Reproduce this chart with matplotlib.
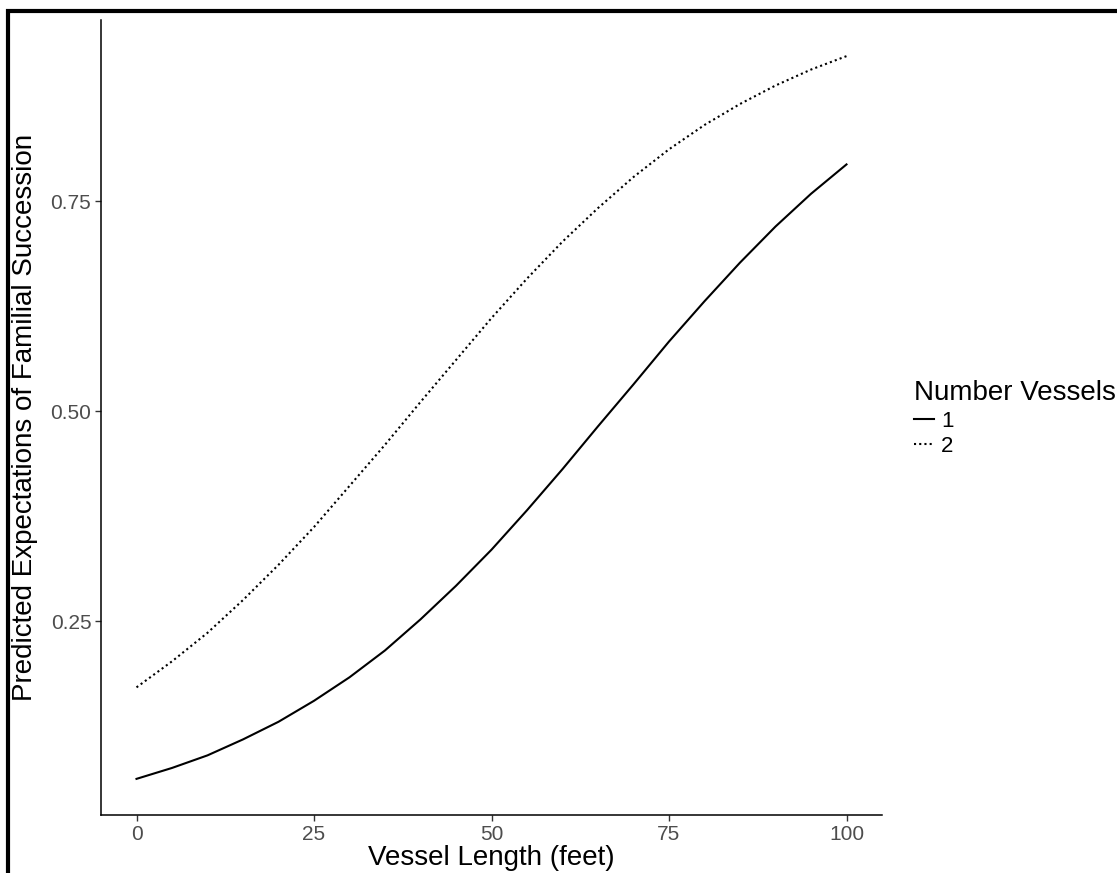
import matplotlib
matplotlib.use('Agg')
import matplotlib.pyplot as plt
from matplotlib.patches import Rectangle

plt.rcParams['font.family'] = ['Liberation Sans', 'DejaVu Sans']

# ---- Data ----
vessel_length = [0, 5, 10, 15, 20, 25, 30, 35, 40, 45, 50,
                 55, 60, 65, 70, 75, 80, 85, 90, 95, 100]
pred_one_vessel = [0.062, 0.075, 0.090, 0.109, 0.130, 0.155, 0.183, 0.215,
                   0.252, 0.292, 0.335, 0.382, 0.431, 0.482, 0.532, 0.583,
                   0.631, 0.677, 0.720, 0.759, 0.794]
pred_two_vessels = [0.171, 0.202, 0.236, 0.275, 0.317, 0.362, 0.411, 0.460,
                    0.511, 0.561, 0.611, 0.658, 0.702, 0.742, 0.779, 0.812,
                    0.841, 0.866, 0.888, 0.907, 0.923]
series_labels = ['1', '2']
x_ticks = [0, 25, 50, 75, 100]
y_ticks = [0.25, 0.50, 0.75]

W, H = 1117, 873
fig = plt.figure(figsize=(W / 100, H / 100), dpi=100)
ax = fig.add_axes([101 / W, 1 - 815 / H, (882 - 101) / W, (815 - 20) / H])

ax.plot(vessel_length, pred_one_vessel, color='black', lw=1.5,
        solid_joinstyle='round', label=series_labels[0])
ax.plot(vessel_length, pred_two_vessels, color='black', lw=1.5,
        dashes=(1, 1.5), label=series_labels[1])

# ggplot-style 5% expansion
lo = min(pred_one_vessel + pred_two_vessels)
hi = max(pred_one_vessel + pred_two_vessels)
pad = 0.05 * (hi - lo)
ax.set_ylim(lo - pad, hi + pad)
ax.set_xlim(-5, 105)

ax.set_xticks(x_ticks)
ax.set_xticklabels([str(v) for v in x_ticks])
ax.set_yticks(y_ticks)
ax.set_yticklabels([f'{v:.2f}' for v in y_ticks])
ax.tick_params(axis='both', direction='out', length=4, width=1.0,
               color='#333333', labelcolor='#4D4D4D', labelsize=15, pad=3)

for side in ['top', 'right']:
    ax.spines[side].set_visible(False)
for side in ['left', 'bottom']:
    ax.spines[side].set_linewidth(1.1)
    ax.spines[side].set_color('black')

ax.set_xlabel('Vessel Length (feet)', fontsize=20, labelpad=1)
ax.set_ylabel('Predicted Expectations of Familial Succession', fontsize=20,
              labelpad=9)

leg = fig.legend(loc='upper left', bbox_to_anchor=(903 / W, 1 - 369 / H),
                 frameon=False, title='Number Vessels', title_fontsize=20,
                 fontsize=16, handlelength=0.9, handletextpad=0.3,
                 labelspacing=0.2, borderpad=0, alignment='left')

# black frame visible on top and left of the screenshot
fig.add_artist(Rectangle((8 / W, -0.2), 1.5, 1.2 - 11 / H,
                         transform=fig.transFigure, fill=False,
                         edgecolor='black', lw=3.0))

fig.savefig('out.png', dpi=100)
